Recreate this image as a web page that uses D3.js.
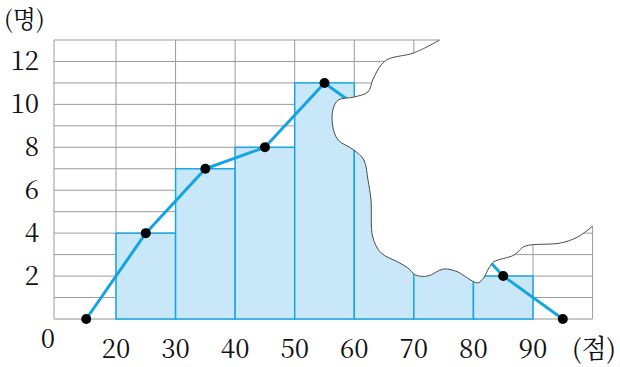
<!DOCTYPE html>
<html><head><meta charset="utf-8">
<script src="https://cdn.jsdelivr.net/npm/d3@7"></script>
<style>body{margin:0;background:#fff}svg{display:block}</style>
</head><body>
<script>
// classes (score bins) and frequencies
const binStarts = [20, 30, 40, 50, 60, 70, 80];
const counts    = [4, 7, 8, 11, 9, 5, 2];
// frequency polygon points (midpoints, incl. empty end classes)
const polyX = [15, 25, 35, 45, 55, 65, 75, 85, 95];
const polyY = [0, 4, 7, 8, 11, 9, 5, 2, 0];
const xTicks = [20, 30, 40, 50, 60, 70, 80, 90];
const yTicks = [2, 4, 6, 8, 10, 12];
// torn-paper edge (in data units: score, count)
const tearX = [74.35,70.0,65.8,64.5,63.1,62.3,59.9,57.3,56.4,56.4,57.3,59.9,61.6,62.3,62.8,63.1,64.5,67.3,69.0,70.3,72.3,75.0,77.4,79.0,80.7,81.7,82.6,83.4,86.8,88.4,89.6,94.6,97.5,100.0];
const tearY = [13,12.40,12.12,11.84,11.14,10.58,10.34,10.2,9.74,8.95,8.34,7.88,7.41,6.48,5.55,3.82,3.08,2.66,2.38,2.05,2.00,2.33,2.19,1.91,1.68,1.91,2.38,2.66,2.98,3.36,3.45,3.54,3.82,4.33];

const W = 620, H = 367;
const x = d3.scaleLinear().domain([20, 90]).range([116, 533]);
const y = d3.scaleLinear().domain([0, 13]).range([319, 40]);
const leftEdge = 54;
const font = "Noto Serif CJK KR, Liberation Serif, serif";

const svg = d3.select("body").append("svg").attr("width", W).attr("height", H);

// grid
const g = svg.append("g");
g.selectAll("line.h").data(d3.range(1, 14)).join("line")
  .attr("x1", leftEdge).attr("x2", x(100)).attr("y1", d => y(d)).attr("y2", d => y(d))
  .attr("stroke", "#9a9a9a").attr("stroke-width", 1);
g.selectAll("line.v").data(d3.range(20, 101, 10)).join("line")
  .attr("x1", d => x(d)).attr("x2", d => x(d)).attr("y1", y(0)).attr("y2", y(13))
  .attr("stroke", "#9a9a9a").attr("stroke-width", 1);
g.append("line").attr("x1", leftEdge).attr("x2", leftEdge).attr("y1", y(0)).attr("y2", y(13))
  .attr("stroke", "#9a9a9a").attr("stroke-width", 1);
g.append("line").attr("x1", leftEdge).attr("x2", x(100)).attr("y1", y(0)).attr("y2", y(0))
  .attr("stroke", "#c8c8c8").attr("stroke-width", 2);

// bars
svg.append("g").selectAll("rect").data(binStarts).join("rect")
  .attr("x", d => x(d)).attr("width", d => x(d + 10) - x(d))
  .attr("y", (d, i) => y(counts[i])).attr("height", (d, i) => y(0) - y(counts[i]))
  .attr("fill", "#c8e8f9").attr("stroke", "#1ba6e2").attr("stroke-width", 1.5);

// frequency polygon
const pts = polyX.map((d, i) => [d, polyY[i]]);
svg.append("path").datum(pts)
  .attr("d", d3.line().x(d => x(d[0])).y(d => y(d[1])))
  .attr("fill", "none").attr("stroke", "#14a3e3").attr("stroke-width", 3)
  .attr("stroke-linejoin", "round");
svg.append("g").selectAll("circle").data(pts).join("circle")
  .attr("cx", d => x(d[0])).attr("cy", d => y(d[1])).attr("r", 5).attr("fill", "#000");

// torn area
const tear = tearX.map((d, i) => [d, tearY[i]]);
const tl = d3.line().x(d => x(d[0])).y(d => y(d[1])).curve(d3.curveCatmullRom);
const last = tear[tear.length - 1];
svg.append("path")
  .attr("d", tl(tear) + `L${x(101.5)},${y(last[1])}L${x(101.5)},${y(14.5)}L${x(tear[0][0])},${y(14.5)}Z`)
  .attr("fill", "#fff").attr("stroke", "none");
svg.append("path").attr("d", tl(tear))
  .attr("fill", "none").attr("stroke", "#4a4a4a").attr("stroke-width", 1);

// labels
svg.append("g").selectAll("text").data(yTicks).join("text")
  .attr("x", 39).attr("y", d => y(d)).attr("dy", "0.34em")
  .attr("text-anchor", "end").attr("font-family", font).attr("font-size", 26)
  .attr("fill", "#111").text(d => d);
svg.append("g").selectAll("text").data(xTicks).join("text")
  .attr("x", d => x(d)).attr("y", 358)
  .attr("text-anchor", "middle").attr("font-family", font).attr("font-size", 26)
  .attr("fill", "#111").text(d => d);
svg.append("text").attr("x", 48).attr("y", 348).attr("text-anchor", "middle")
  .attr("font-family", font).attr("font-size", 26).attr("fill", "#111").text("0");
svg.append("text").attr("x", 4).attr("y", 28).attr("font-family", font)
  .attr("font-size", 24).attr("fill", "#111").text("(명)");
svg.append("text").attr("x", 572).attr("y", 358).attr("font-family", font)
  .attr("font-size", 26).attr("fill", "#111").text("(점)");
</script>
</body></html>
